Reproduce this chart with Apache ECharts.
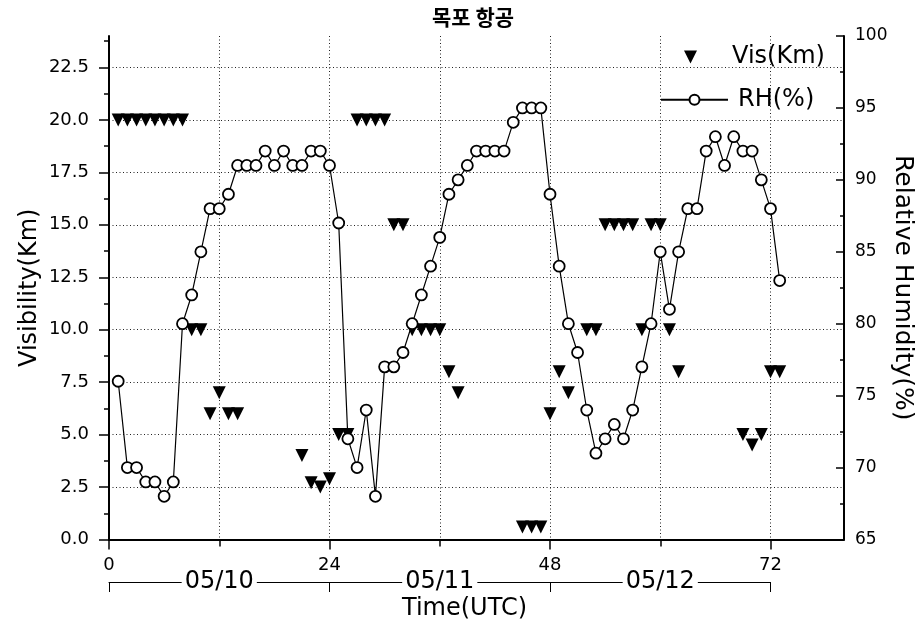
<!DOCTYPE html>
<html><head><meta charset="utf-8">
<script src="https://cdn.jsdelivr.net/npm/echarts@6/dist/echarts.min.js"></script>
<style>html,body{margin:0;padding:0;background:#fff}#c{width:922px;height:637px}</style>
</head><body><div id="c"></div>
<script>
// ---- data (hour since 05/10 00 UTC) ----
const hours = [1,2,3,4,5,6,7,8,9,10,11,12,13,14,15,16,17,18,19,20,21,22,23,24,25,26,27,28,29,30,31,32,33,34,35,36,37,38,39,40,41,42,43,44,45,46,47,48,49,50,51,52,53,54,55,56,57,58,59,60,61,62,63,64,65,66,67,68,69,70,71,72,73];
const visKm = [20,20,20,20,20,20,20,20,10,10,
               6,7,6,6,null,null,null,null,null,null,
               4,2.7,2.5,2.9,5,5,20,20,20,20,
               15,15,10,10,10,10,8,7,null,null,
               null,null,null,null,0.6,0.6,0.6,6,8,7,
               null,10,10,15,15,15,15,10,15,15,
               10,8,null,null,null,null,null,null,5,4.5,
               5,8,8];
const rhPct = [76,70,70,69,69,68,69,80,82,85,
               88,88,89,91,91,91,92,91,92,91,
               91,92,92,91,87,72,70,74,68,77,
               77,78,80,82,84,86,89,90,91,92,
               92,92,92,94,95,95,95,89,84,80,
               78,74,71,72,73,72,74,77,80,85,
               81,85,88,88,92,93,91,93,92,92,
               90,88,83];
const dayLabels = ['05/10','05/11','05/12'];
const visTicks = [0,2.5,5,7.5,10,12.5,15,17.5,20,22.5];
const visMinorTicks = [1.25,3.75,6.25,8.75,11.25,13.75,16.25,18.75,21.25,23.75];

// ---- layout ----
const X_MAX = 80, DAY_SPAN = 72;
const G_LEFT = 109, G_TOP = 36, G_W = 735, G_H = 503.5;
const F = 'DejaVu Sans';
const black = '#000';
const DOWN_TRI = 'path://M0,0L10,0L5,10Z';

const visData = hours.map((h,i)=>[h, visKm[i]]).filter(d=>d[1]!=null);
const rhData = hours.map((h,i)=>[h, rhPct[i]]);

const chart = echarts.init(document.getElementById('c'), null, {renderer:'canvas'});
chart.setOption({
  animation:false,
  backgroundColor:'#fff',
  textStyle:{fontFamily:F, color:black},
  title:{text:'목포 항공', left:468, textAlign:'center', top:2,
    textStyle:{fontFamily:'Noto Sans CJK KR', fontSize:21, fontWeight:'bold', color:black}},
  legend:[
    {data:['Vis(Km)'], left:684, top:45, itemWidth:13, itemHeight:13, padding:0,
     icon:DOWN_TRI, itemGap:0, itemStyle:{opacity:1},
     selectedMode:false, textStyle:{fontFamily:F, fontSize:24, color:black, padding:[0,0,0,30]}},
    {data:['RH(%)'], left:660, top:87.75, itemWidth:67, itemHeight:12.5, padding:0,
     selectedMode:false, textStyle:{fontFamily:F, fontSize:24, color:black, padding:[0,0,0,5]}}
  ],
  grid:[
    {left:G_LEFT, top:G_TOP, width:G_W, height:G_H, containLabel:false, outerBoundsMode:'none'},
    {left:G_LEFT, top:G_TOP, width:G_W*DAY_SPAN/X_MAX, height:G_H, containLabel:false, outerBoundsMode:'none'}
  ],
  xAxis:[
    {gridIndex:0, type:'value', position:'bottom', min:0, max:X_MAX, interval:12,
     axisLine:{show:true, onZero:false, lineStyle:{color:black, width:2}},
     axisTick:{show:false}, axisLabel:{show:false},
     splitLine:{show:true, showMinLine:false, showMaxLine:false, lineStyle:{color:'#222', width:1, type:[1,2.5]}},
     name:'Time(UTC)', nameLocation:'middle', nameGap:57, nameMoveOverlap:false,
     nameTextStyle:{fontFamily:F, fontSize:24, color:black, padding:[0,24,0,0]}},
    {gridIndex:1, type:'value', position:'bottom', min:0, max:DAY_SPAN, interval:24,
     axisLine:{show:false, onZero:false},
     axisTick:{show:true, length:10, lineStyle:{color:black, width:1.5}},
     minorTick:{show:true, splitNumber:2, length:7, lineStyle:{color:black, width:1.5}},
     axisLabel:{show:true, fontFamily:F, fontSize:18, color:black, margin:17},
     splitLine:{show:false}},
    {gridIndex:1, type:'category', position:'bottom', data:dayLabels, boundaryGap:true, offset:42.5,
     axisLine:{show:true, onZero:false, lineStyle:{color:black, width:1}},
     axisTick:{show:true, length:10, lineStyle:{color:black, width:1}},
     axisLabel:{show:true, interval:0, fontFamily:F, fontSize:24, color:black, margin:0,
       verticalAlign:'middle', backgroundColor:'#fff', padding:[0,3]},
     splitLine:{show:false}}
  ],
  yAxis:[
    {gridIndex:0, type:'value', position:'left', min:0, max:24, interval:2.5,
     axisLine:{show:true, onZero:false, lineStyle:{color:black, width:2}},
     axisTick:{show:true, customValues:visTicks, length:10, lineStyle:{color:black, width:1.5}},
     axisLabel:{show:true, customValues:visTicks, formatter:v=>Number(v).toFixed(1),
       fontFamily:F, fontSize:18, color:black, margin:20},
     splitLine:{show:false},
     name:'Visibility(Km)', nameLocation:'middle', nameRotate:90, nameGap:67.5, nameMoveOverlap:false,
     nameTextStyle:{fontFamily:F, fontSize:24, color:black}},
    {gridIndex:0, type:'value', position:'right', min:65, max:100, interval:5,
     axisLine:{show:true, onZero:false, lineStyle:{color:black, width:2}},
     axisTick:{show:true, inside:true, length:8, lineStyle:{color:black, width:1.5}},
     minorTick:{show:true, splitNumber:2, length:4, lineStyle:{color:black, width:1.5}},
     axisLabel:{show:true, fontFamily:F, fontSize:17, color:black, margin:11},
     splitLine:{show:false},
     name:'Relative Humidity(%)', nameLocation:'middle', nameRotate:-90, nameGap:46, nameMoveOverlap:false,
     nameTextStyle:{fontFamily:F, fontSize:25, color:black}},
    {gridIndex:0, type:'value', position:'left', min:0, max:24,
     axisLine:{show:false}, axisLabel:{show:false}, splitLine:{show:false},
     axisTick:{show:true, customValues:visMinorTicks, length:5, lineStyle:{color:black, width:1.5}}},
    {gridIndex:0, type:'value', position:'left', min:0, max:24, interval:2.5,
     axisLine:{show:false}, axisLabel:{show:false}, axisTick:{show:false},
     splitLine:{show:true, showMinLine:false, showMaxLine:false, lineStyle:{color:'#222', width:1, type:[1,2.5]}}},
    {gridIndex:1, type:'value', show:false, min:0, max:1}
  ],
  series:[
    {name:'Vis(Km)', type:'scatter', xAxisIndex:0, yAxisIndex:0, symbol:DOWN_TRI, symbolSize:13,
     itemStyle:{color:black, opacity:1}, data:visData, z:2},
    {name:'RH(%)', type:'line', xAxisIndex:0, yAxisIndex:1, symbol:'circle', symbolSize:11, showAllSymbol:true,
     itemStyle:{color:'#fff', borderColor:black, borderWidth:1.8, opacity:1},
     lineStyle:{color:black, width:1.2}, data:rhData, z:3}
  ]
});
</script></body></html>
